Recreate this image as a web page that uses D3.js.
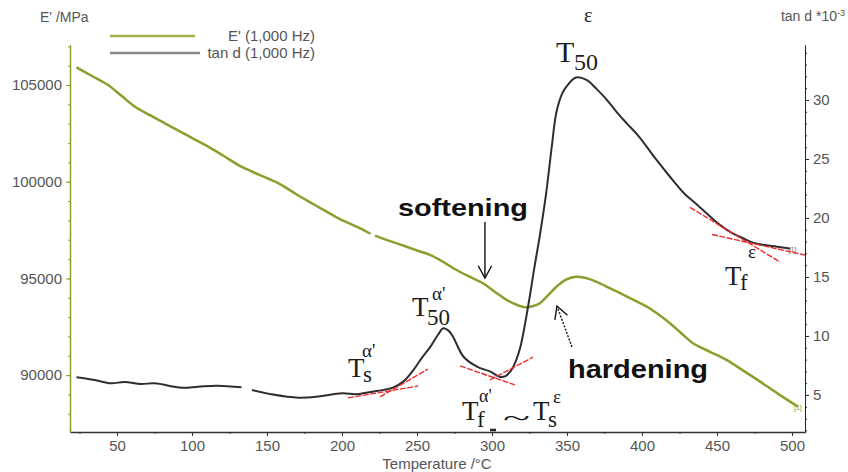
<!DOCTYPE html>
<html>
<head>
<meta charset="utf-8">
<script src="https://cdn.jsdelivr.net/npm/d3@7"></script>
<style>
  body { margin: 0; background: #fff; }
  svg { display: block; }
</style>
</head>
<body>
<svg id="chart"></svg>
<script>
const WIDTH = 848, HEIGHT = 472;

// E' (1,000 Hz) storage modulus, MPa  (NaN = small gap in the trace)
const eTemp = [23, 33, 44, 53, 62, 72, 82, 95, 109, 121, 133, 145, 158, 169, 180, 190, 198, 210, 219, 220.5, 222, 232, 243, 251, 259, 268, 276, 285, 294, 302, 310, 316, 322, 327, 332, 337, 343, 349, 356, 362, 369, 376, 388, 399, 405, 412, 419, 426, 434, 445, 456, 467, 479, 491, 504];
const eMod = [105915, 105480, 105000, 104440, 103878, 103440, 103020, 102470, 101890, 101340, 100776, 100350, 99900, 99380, 98880, 98440, 98090, 97660, 97310, NaN, 97210, 96930, 96640, 96420, 96200, 95830, 95450, 95090, 94750, 94300, 93880, 93650, 93510, 93560, 93720, 94100, 94570, 94930, 95090, 95030, 94850, 94590, 94140, 93710, 93460, 93080, 92660, 92180, 91650, 91220, 90800, 90260, 89650, 89020, 88370];

// tan d (1,000 Hz), *10^-3
const tanTemp = [23, 35, 46, 55, 66, 75, 93, 104, 117, 133, 136, 140, 153, 171, 184, 200, 209, 214, 224, 234, 241, 247.5, 253, 259, 264, 267.5, 271, 274, 281, 290, 299, 305, 309, 313, 316, 319, 325, 328, 332, 336, 340, 343, 347, 350, 356, 363, 370, 376, 383, 390, 398, 408, 418, 428, 436, 443, 451, 459, 467, 474, 482, 490, 499];
const tanVal = [6.5, 6.27, 5.99, 6.1, 5.93, 5.99, 5.62, 5.7, 5.79, 5.65, NaN, 5.42, 5.06, 4.77, 4.86, 5.14, 5.06, 5.14, 5.35, 5.62, 6.15, 7.1, 8.1, 9.1, 10.1, 10.65, 10.45, 9.94, 8.24, 7.4, 6.97, 6.55, 6.6, 7.12, 7.9, 9.1, 13.2, 15.6, 18.6, 22.0, 26.2, 29.0, 30.6, 31.2, 31.9, 31.7, 30.9, 30.1, 29.0, 28.0, 26.9, 25.2, 23.6, 22.1, 21.2, 20.4, 19.5, 18.8, 18.3, 17.9, 17.7, 17.57, 17.4];

// axis ticks
const xTicks = [50, 100, 150, 200, 250, 300, 350, 400, 450, 500];
const eTicks = [90000, 95000, 100000, 105000];
const tanTicks = [5, 10, 15, 20, 25, 30];

// hand-drawn tangent lines (temperature, tan d)
const tangents = [
  [[204, 4.75], [250.7, 5.76]],
  [[225.3, 4.83], [257.3, 7.2]],
  [[278.7, 7.46], [315.3, 5.85]],
  [[298.7, 6.27], [327.3, 8.2]],
  [[432, 20.9], [492, 16.27]],
  [[446.7, 18.6], [508.7, 16.86]]
];

const OLIVE = "#8f9c2e";
const SANS = "'Liberation Sans', Arial, sans-serif";
const SERIF = "'Liberation Serif', 'Times New Roman', serif";

const svg = d3.select("#chart").attr("width", WIDTH).attr("height", HEIGHT);

const x = d3.scaleLinear().domain([18.67, 508.67]).range([70, 805]);
const yL = d3.scaleLinear().domain([87060, 107068]).range([432, 45]);
const yR = d3.scaleLinear().domain([1.86, 34.66]).range([432, 45]);

// ---- axes ----
function styleAxis(g, col) {
  g.select(".domain").attr("stroke", col);
  g.selectAll(".tick line").attr("stroke", col);
  g.selectAll(".tick text").attr("fill", "#555").attr("font-size", 15).attr("font-family", SANS);
}

// bottom
svg.append("g").attr("transform", `translate(0,432)`)
  .call(d3.axisBottom(x).tickValues(d3.range(25, 501, 25)).tickSize(2).tickSizeOuter(0).tickFormat(""))
  .call(g => styleAxis(g, "#333"));
svg.append("g").attr("transform", `translate(0,432)`)
  .call(d3.axisBottom(x).tickValues(xTicks).tickSize(4).tickSizeOuter(0).tickPadding(4))
  .call(g => styleAxis(g, "#333"))
  .call(g => g.select(".domain").attr("stroke-width", 1.5));

// left (E')
svg.append("g").attr("transform", `translate(70,0)`)
  .call(d3.axisLeft(yL).tickValues(d3.range(88000, 107001, 1000)).tickSize(2).tickSizeOuter(0).tickFormat(""))
  .call(g => styleAxis(g, OLIVE));
svg.append("g").attr("transform", `translate(70,0)`)
  .call(d3.axisLeft(yL).tickValues(eTicks).tickSize(4).tickSizeOuter(0).tickPadding(4).tickFormat(d3.format("d")))
  .call(g => styleAxis(g, OLIVE))
  .call(g => g.select(".domain").attr("stroke-width", 1.5));

// right (tan d)
svg.append("g").attr("transform", `translate(805,0)`)
  .call(d3.axisRight(yR).tickValues(d3.range(2, 35, 1)).tickSize(2).tickSizeOuter(0).tickFormat(""))
  .call(g => styleAxis(g, "#222"));
svg.append("g").attr("transform", `translate(805,0)`)
  .call(d3.axisRight(yR).tickValues(tanTicks).tickSize(4).tickSizeOuter(0).tickPadding(4))
  .call(g => styleAxis(g, "#222"));

// axis titles
svg.append("text").attr("x", 40).attr("y", 22).attr("font-family", SANS).attr("font-size", 14)
  .attr("fill", "#555").text("E' /MPa");
const rt = svg.append("text").attr("x", 845).attr("y", 21).attr("text-anchor", "end")
  .attr("font-family", SANS).attr("font-size", 14).attr("fill", "#555");
rt.append("tspan").text("tan d *10");
rt.append("tspan").attr("dy", -5).attr("font-size", 9).text("-3");
svg.append("text").attr("x", 437).attr("y", 469).attr("text-anchor", "middle")
  .attr("font-family", SANS).attr("font-size", 15).attr("fill", "#555").text("Temperature /°C");

// ---- legend ----
const legend = [
  { label: "E' (1,000 Hz)", color: "#a9b24a", y: 36, x2: 195 },
  { label: "tan d (1,000 Hz)", color: "#8a8a8a", y: 53, x2: 200 }
];
legend.forEach(d => {
  svg.append("line").attr("x1", 110).attr("x2", d.x2).attr("y1", d.y).attr("y2", d.y)
    .attr("stroke", d.color).attr("stroke-width", 2.5);
  svg.append("text").attr("x", 315).attr("y", d.y + 5).attr("text-anchor", "end")
    .attr("font-family", SANS).attr("font-size", 15).attr("fill", "#555").text(d.label);
});

// ---- curves ----
const eData = eTemp.map((t, i) => [t, eMod[i]]);
const tanData = tanTemp.map((t, i) => [t, tanVal[i]]);

const eLine = d3.line().defined(d => !isNaN(d[1]))
  .x(d => x(d[0])).y(d => yL(d[1])).curve(d3.curveCatmullRom.alpha(0.5));
const tanLine = d3.line().defined(d => !isNaN(d[1]))
  .x(d => x(d[0])).y(d => yR(d[1])).curve(d3.curveCatmullRom.alpha(0.5));

svg.append("path").datum(eData).attr("d", eLine)
  .attr("fill", "none").attr("stroke", OLIVE).attr("stroke-width", 2.5);
svg.append("path").datum(tanData).attr("d", tanLine)
  .attr("fill", "none").attr("stroke", "#2e2e2e").attr("stroke-width", 2);

// tiny end markers
svg.append("text").attr("x", x(499) - 2).attr("y", yR(17.4) + 3).attr("font-size", 7)
  .attr("font-family", SANS).attr("fill", "#777").text("[1]");
svg.append("text").attr("x", x(504) - 4).attr("y", yL(88370) + 3).attr("font-size", 7)
  .attr("font-family", SANS).attr("fill", "#9aa040").text("[1]");

// ---- tangent lines ----
svg.append("g").selectAll("line").data(tangents).join("line")
  .attr("x1", d => x(d[0][0])).attr("y1", d => yR(d[0][1]))
  .attr("x2", d => x(d[1][0])).attr("y2", d => yR(d[1][1]))
  .attr("stroke", "#ee2a2a").attr("stroke-width", 1.4).attr("stroke-dasharray", "6,1.5");

// ---- symbol labels ----
function sym(T0, v0, parts) {
  const x0 = x(T0), y0 = yR(v0);
  const t = svg.append("text").attr("font-family", SERIF).attr("fill", "#1c1c1c");
  parts.forEach(p => t.append("tspan").attr("x", x0 + p[1]).attr("y", y0 + p[2])
    .attr("font-size", p[3]).text(p[0]));
}
sym(342.7, 33.22, [["T", 0, 0, 30], ["50", 18, 8, 24], ["ε", 28, -40, 20]]);
sym(246.7, 11.69, [["T", 0, 0, 27], ["50", 15, 9, 23], ["α'", 20, -16, 19]]);
sym(204, 6.53, [["T", 0, 0, 27], ["s", 15, 5, 23], ["α'", 14, -20, 19]]);
sym(280, 2.88, [["T", 0, 0, 27], ["f", 15, 7, 23], ["α'", 17, -18, 18]]);
sym(327.3, 2.88, [["T", 0, 0, 27], ["s", 15, 7, 23], ["ε", 20, -17, 19]]);
sym(455.3, 14.32, [["T", 0, 0, 27], ["f", 15, 5, 23], ["ε", 23, -27, 19]]);
svg.append("text").attr("x", x(307.3)).attr("y", yR(2.88) + 6).attr("font-family", SERIF)
  .attr("font-size", 26).attr("textLength", 27).attr("lengthAdjust", "spacingAndGlyphs")
  .attr("fill", "#1c1c1c").text("~");
svg.append("line").attr("x1", x(298.7)).attr("x2", x(302.7)).attr("y1", 430).attr("y2", 430)
  .attr("stroke", "#222").attr("stroke-width", 2.5);

// ---- softening / hardening ----
svg.append("text").attr("x", x(237.3)).attr("y", yL(98227)).attr("font-family", SANS)
  .attr("font-weight", "bold").attr("font-size", 23).attr("textLength", 130)
  .attr("lengthAdjust", "spacingAndGlyphs").attr("fill", "#111").text("softening");
svg.append("text").attr("x", x(350.7)).attr("y", yL(89852)).attr("font-family", SANS)
  .attr("font-weight", "bold").attr("font-size", 26).attr("textLength", 140)
  .attr("lengthAdjust", "spacingAndGlyphs").attr("fill", "#111").text("hardening");

function arrow(p0, p1, dash) {
  const x0 = x(p0[0]), y0 = yL(p0[1]), x1 = x(p1[0]), y1 = yL(p1[1]);
  const a = Math.atan2(y1 - y0, x1 - x0), L = 14, w = 0.5;
  svg.append("line").attr("x1", x0).attr("y1", y0).attr("x2", x1).attr("y2", y1)
    .attr("stroke", "#111").attr("stroke-width", 1.4).attr("stroke-dasharray", dash);
  svg.append("path")
    .attr("d", `M${x1 - L * Math.cos(a - w)},${y1 - L * Math.sin(a - w)}L${x1},${y1}L${x1 - L * Math.cos(a + w)},${y1 - L * Math.sin(a + w)}`)
    .attr("fill", "none").attr("stroke", "#111").attr("stroke-width", 1.4);
}
arrow([295.3, 97917], [295.3, 95022], null);
arrow([353.3, 91455], [343.3, 93574], "2,1.5");
</script>
</body>
</html>
